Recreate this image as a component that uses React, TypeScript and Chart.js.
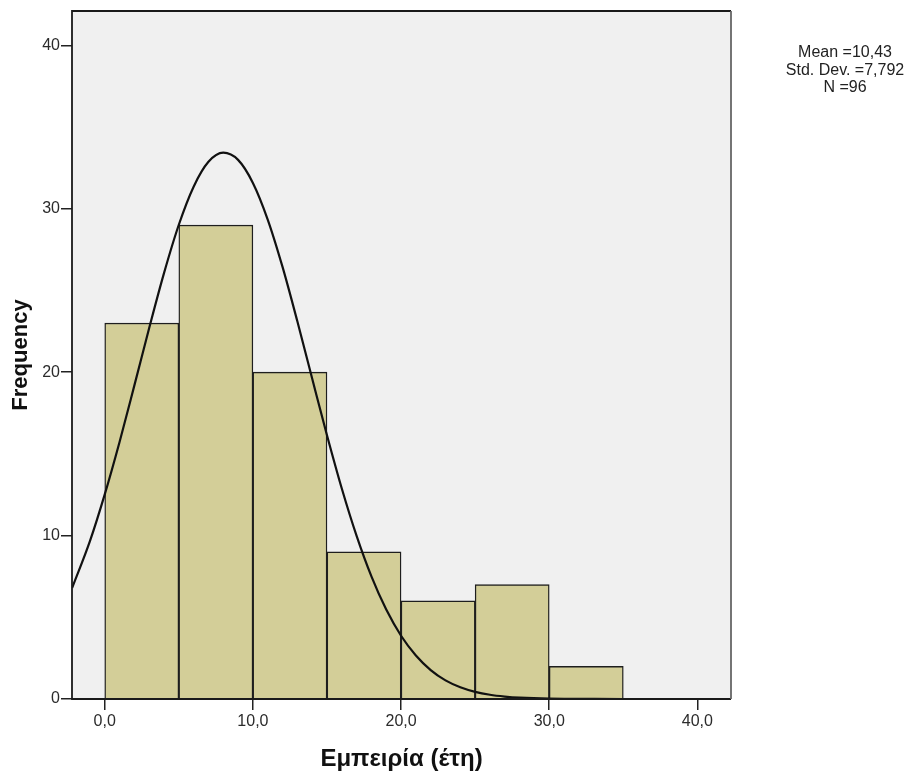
import React, { useEffect, useRef } from "react";
import { Chart, registerables } from "chart.js";

Chart.register(...registerables);

// Histogram bins
const binStarts = [0, 5, 10, 15, 20, 25, 30];
const binWidth = 5;
const frequencies = [23, 29, 20, 9, 6, 7, 2];

// Normal curve
const curveX = [-2.2, -1, 0, 1, 2, 3, 4, 5, 6, 7, 8, 9, 10, 11, 12, 13, 14, 15, 16, 17, 18, 19, 20, 21, 22, 23, 24, 25, 26, 27, 28, 30, 32, 35, 38, 42.3];
const curveY = [6.8, 9.66, 12.52, 15.73, 19.19, 22.7, 26.06, 29.02, 31.35, 32.87, 33.43, 32.99, 31.58, 29.34, 26.44, 23.11, 19.61, 16.14, 12.88, 9.98, 7.5, 5.47, 3.87, 2.66, 1.77, 1.14, 0.72, 0.44, 0.26, 0.15, 0.08, 0.02, 0.01, 0, 0, 0];

// Axes
const xTickValues = [0, 10, 20, 30, 40];
const yTickValues = [0, 10, 20, 30, 40];
const xRange = [-2.21, 42.27];
const yRange = [0, 42.1];

const xTitle = "Εμπειρία (έτη)";
const yTitle = "Frequency";
const statsLines = ["Mean =10,43", "Std. Dev. =7,792", "N =96"];

const FONT = "'Liberation Sans', Arial, sans-serif";

export default function App() {
  const ref = useRef<HTMLCanvasElement>(null);

  useEffect(() => {
    const canvas = ref.current;
    if (!canvas) return;

    const framePlugin = {
      id: "spssFrame",
      beforeDraw(chart: any) {
        const { ctx, chartArea: a } = chart;
        ctx.save();
        ctx.fillStyle = "#ffffff";
        ctx.fillRect(0, 0, chart.width, chart.height);
        ctx.fillStyle = "#f0f0f0";
        ctx.fillRect(a.left, a.top, a.right - a.left, a.bottom - a.top);
        ctx.restore();
      },
      afterDatasetsDraw(chart: any) {
        const { ctx, chartArea: a } = chart;
        ctx.save();
        ctx.lineWidth = 1.8;
        ctx.strokeStyle = "#1a1a1a";
        ctx.beginPath();
        ctx.moveTo(a.right, a.top);
        ctx.lineTo(a.left, a.top);
        ctx.lineTo(a.left, a.bottom);
        ctx.lineTo(a.right, a.bottom);
        ctx.stroke();
        ctx.strokeStyle = "#666666";
        ctx.beginPath();
        ctx.moveTo(a.right, a.top);
        ctx.lineTo(a.right, a.bottom);
        ctx.stroke();
        ctx.restore();
      },
      afterDraw(chart: any) {
        const { ctx } = chart;
        ctx.save();
        ctx.fillStyle = "#222222";
        ctx.font = `16px ${FONT}`;
        ctx.textAlign = "center";
        ctx.textBaseline = "middle";
        statsLines.forEach((t, i) => {
          ctx.fillText(t, 845, 53 + i * 17.5);
        });
        ctx.restore();
      },
    };

    const chart = new Chart(canvas, {
      type: "bar",
      data: {
        datasets: [
          {
            type: "line",
            data: curveX.map((x, i) => ({ x, y: curveY[i] })),
            borderColor: "#111111",
            borderWidth: 2.2,
            pointRadius: 0,
            fill: false,
            cubicInterpolationMode: "monotone",
            order: 0,
          } as any,
          {
            type: "bar",
            data: binStarts.map((s, i) => ({ x: s + binWidth / 2, y: frequencies[i] })),
            backgroundColor: "#d3ce98",
            borderColor: "#1e1e1e",
            borderWidth: 1.4,
            barPercentage: 1,
            categoryPercentage: 1,
            order: 1,
          } as any,
        ],
      },
      options: {
        responsive: false,
        animation: false,
        devicePixelRatio: 1,
        layout: { padding: { left: 0, top: 11, right: 182, bottom: 0 } },
        plugins: {
          legend: { display: false },
          tooltip: { enabled: false },
        },
        scales: {
          x: {
            type: "linear",
            offset: false,
            min: xRange[0],
            max: xRange[1],
            afterBuildTicks: (s: any) => {
              s.ticks = xTickValues.map((v) => ({ value: v }));
            },
            afterFit: (s: any) => {
              s.height = 77;
            },
            grid: {
              display: true,
              offset: false,
              drawOnChartArea: false,
              drawTicks: true,
              tickLength: 11,
              color: "#222222",
              lineWidth: 1.5,
            },
            border: { display: false },
            ticks: {
              padding: 2,
              color: "#2b2b2b",
              font: { family: FONT, size: 16 },
              maxRotation: 0,
              callback: (v: any) => Number(v).toFixed(1).replace(".", ","),
            },
            title: {
              display: true,
              text: xTitle,
              color: "#111111",
              font: { family: FONT, size: 24, weight: "bold" },
              padding: { top: 0, bottom: 2 },
            },
          },
          y: {
            type: "linear",
            min: yRange[0],
            max: yRange[1],
            afterBuildTicks: (s: any) => {
              s.ticks = yTickValues.map((v) => ({ value: v }));
            },
            afterFit: (s: any) => {
              s.width = 72;
            },
            grid: {
              display: true,
              drawOnChartArea: false,
              drawTicks: true,
              tickLength: 11,
              color: "#222222",
              lineWidth: 1.5,
            },
            border: { display: false },
            ticks: {
              padding: 1,
              color: "#2b2b2b",
              font: { family: FONT, size: 16 },
              callback: (v: any) => String(v),
            },
            title: {
              display: true,
              text: yTitle,
              color: "#111111",
              font: { family: FONT, size: 22, weight: "bold" },
              padding: { top: 8, bottom: 0 },
            },
          },
        },
      },
      plugins: [framePlugin],
    } as any);

    return () => chart.destroy();
  }, []);

  return (
    <div style={{ position: "absolute", left: 0, top: 0, width: 913, height: 776, background: "#fff" }}>
      <canvas ref={ref} width={913} height={776} style={{ display: "block", width: 913, height: 776 }} />
    </div>
  );
}
